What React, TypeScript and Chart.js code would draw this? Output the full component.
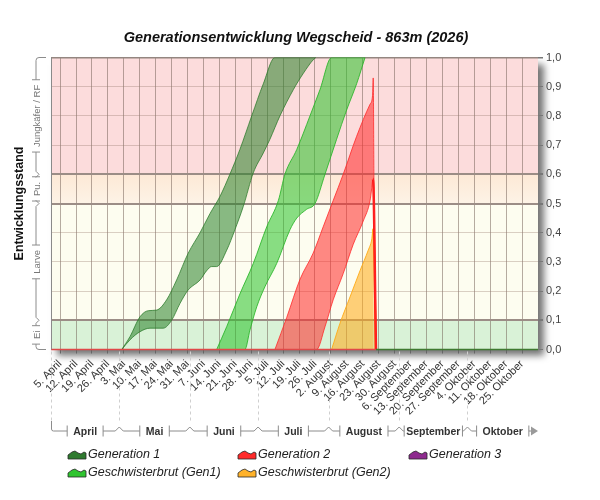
import React, { useEffect, useRef } from 'react';
import Chart from 'chart.js/auto';

const FONT = "'Liberation Sans', Arial, sans-serif";

const title = 'Generationsentwicklung Wegscheid - 863m (2026)';
const yTitle = 'Entwicklungsstand';

const tickLabels = [
	'5. April', '12. April', '19. April', '26. April',
	'3. Mai', '10. Mai', '17. Mai', '24. Mai', '31. Mai',
	'7. Juni', '14. Juni', '21. Juni', '28. Juni',
	'5. Juli', '12. Juli', '19. Juli', '26. Juli',
	'2. August', '9. August', '16. August', '23. August', '30. August',
	'6. September', '13. September', '20. September', '27. September',
	'4. Oktober', '11. Oktober', '18. Oktober', '25. Oktober',
];
const months = ['April', 'Mai', 'Juni', 'Juli', 'August', 'September', 'Oktober'];
// days counted from 1 April
const monthStarts = [0, 30, 61, 91, 122, 153, 183, 214];

const stageLabels = ['Ei', 'Larve', 'Pu.', 'Jungkäfer / RF'];
const stageBounds = [0, 0.1, 0.5, 0.6, 1];

const seriesNames = [
	'Generation 1',
	'Generation 2',
	'Generation 3',
	'Geschwisterbrut (Gen1)',
	'Geschwisterbrut (Gen2)',
];

// Generation 1 (band)
const gen1UpperDays = [31.1, 34.7, 39.1, 42.8, 46.4, 50.8, 55.2, 60.3, 65.5, 69.9, 74.3, 78.6, 83.0, 88.2, 93.3, 98.4, 116.4];
const gen1UpperVals = [0, 0.044, 0.112, 0.133, 0.135, 0.17, 0.238, 0.33, 0.4, 0.466, 0.525, 0.6, 0.685, 0.8, 0.91, 1, 1];
const gen1LowerDays = [31.1, 34.7, 39.1, 43.5, 49.3, 53.0, 56.7, 60.3, 65.5, 68.4, 70.6, 72.8, 77.2, 80.8, 84.5, 88.9, 93.3, 96.2, 100.6, 106.5, 110.9, 115.2, 116.4];
const gen1LowerVals = [0, 0.033, 0.061, 0.073, 0.073, 0.1, 0.158, 0.204, 0.238, 0.27, 0.284, 0.284, 0.34, 0.41, 0.49, 0.605, 0.673, 0.72, 0.8, 0.89, 0.946, 0.992, 1];

// Geschwisterbrut Gen1 (band)
const sis1UpperDays = [72.8, 77.2, 83.0, 88.9, 94.8, 99.9, 102.8, 108.0, 113.8, 118.2, 123.3, 138.0];
const sis1UpperVals = [0, 0.078, 0.19, 0.295, 0.42, 0.51, 0.6, 0.685, 0.8, 0.89, 1, 1];
const sis1LowerDays = [72.8, 85.2, 87.4, 90.4, 94.0, 99.2, 105.0, 108.0, 112.3, 116.0, 120.4, 125.5, 129.9, 134.3, 138.0];
const sis1LowerVals = [0, 0, 0.066, 0.146, 0.215, 0.295, 0.41, 0.45, 0.48, 0.5, 0.6, 0.72, 0.82, 0.91, 1];

// Generation 2 (band)
const gen2UpperDays = [98.4, 103.6, 109.4, 115.2, 119.6, 124.0, 128.4, 134.3, 140.2, 141.3, 141.6, 141.9, 142.8];
const gen2UpperVals = [0, 0.11, 0.24, 0.33, 0.42, 0.51, 0.6, 0.73, 0.84, 0.87, 0.93, 0.59, 0];
const gen2LowerDays = [98.4, 116.7, 120.4, 124.0, 128.4, 132.8, 137.2, 140.2, 140.9, 141.5, 142.8];
const gen2LowerVals = [0, 0, 0.078, 0.17, 0.26, 0.36, 0.44, 0.51, 0.55, 0.585, 0];

// Geschwisterbrut Gen2 (area)
const sis2Days = [123.3, 127.0, 131.4, 135.8, 139.4, 140.9, 141.6, 142.8];
const sis2Vals = [0, 0.09, 0.18, 0.27, 0.34, 0.375, 0.415, 0];

const legendColors = ['#2f7a2f', '#ff2a2a', '#8e2a8e', '#2fc42f', '#ffb22a'];
const bandColors = ['#d9f2d7', '#fdfdf0', '#fdeedd', '#fcdcdc'];

const pts = (xs: number[], ys: number[]) => xs.map((x, i) => ({ x, y: ys[i] }));

const lastSeg = (n: number, v: any) => (c: any) => (c.p1DataIndex === n - 1 ? v : undefined);

const decor = {
	id: 'decor',
	beforeDraw(chart: any) {
		const { ctx, chartArea: a, scales } = chart;
		const y = scales.y;
		ctx.save();
		ctx.shadowColor = 'rgba(0,0,0,0.55)';
		ctx.shadowBlur = 7;
		ctx.shadowOffsetX = 6;
		ctx.shadowOffsetY = 6;
		ctx.fillStyle = '#fff';
		ctx.fillRect(a.left, a.top, a.width, a.height);
		ctx.restore();
		ctx.save();
		for (let i = 0; i < bandColors.length; i++) {
			const top = y.getPixelForValue(stageBounds[i + 1]);
			const bot = y.getPixelForValue(stageBounds[i]);
			if (i === 2) {
				const g = ctx.createLinearGradient(0, top, 0, bot);
				g.addColorStop(0, '#fde9d6');
				g.addColorStop(1, '#fdf3e6');
				ctx.fillStyle = g;
			} else {
				ctx.fillStyle = bandColors[i];
			}
			ctx.fillRect(a.left, top, a.width, bot - top);
		}
		ctx.restore();
	},
	afterDatasetsDraw(chart: any) {
		const { ctx, chartArea: a, scales } = chart;
		const y0 = scales.y.getPixelForValue(0);
		const xr = scales.x.getPixelForValue(gen2LowerDays[gen2LowerDays.length - 1]);
		ctx.save();
		ctx.lineWidth = 1.5;
		ctx.strokeStyle = '#e04848';
		ctx.beginPath();
		ctx.moveTo(a.left, y0);
		ctx.lineTo(xr, y0);
		ctx.stroke();
		ctx.strokeStyle = '#3f7a30';
		ctx.beginPath();
		ctx.moveTo(xr, y0);
		ctx.lineTo(a.right, y0);
		ctx.stroke();
		ctx.lineWidth = 1;
		ctx.strokeStyle = '#8a8a8a';
		ctx.beginPath();
		ctx.moveTo(a.left + 0.5, a.top);
		ctx.lineTo(a.left + 0.5, a.bottom);
		ctx.stroke();
		ctx.restore();
	},
	afterDraw(chart: any) {
		const { ctx, chartArea: a, scales } = chart;
		const x = scales.x;
		const y = scales.y;
		ctx.save();

		// title
		ctx.fillStyle = '#111';
		ctx.font = `italic bold 14.5px ${FONT}`;
		ctx.textAlign = 'center';
		ctx.textBaseline = 'middle';
		ctx.fillText(title, 296, 38);

		// y title
		ctx.save();
		ctx.translate(20, (a.top + a.bottom) / 2);
		ctx.rotate(-Math.PI / 2);
		ctx.font = `bold 12.5px ${FONT}`;
		ctx.fillText(yTitle, 0, 0);
		ctx.restore();

		// stage brackets on the left
		const bx = 36;
		ctx.strokeStyle = '#8c8c8c';
		ctx.lineWidth = 1;
		ctx.font = `9.5px ${FONT}`;
		for (let i = 0; i < stageLabels.length; i++) {
			const top = y.getPixelForValue(stageBounds[i + 1]);
			const bot = y.getPixelForValue(stageBounds[i]);
			const mid = (top + bot) / 2;
			const half = ctx.measureText(stageLabels[i]).width / 2 + 5;
			const t0 = top + 3;
			const b0 = bot - 3;
			ctx.beginPath();
			if (i === stageLabels.length - 1) {
				ctx.moveTo(bx + 10, top);
				ctx.lineTo(bx + 3, top);
				ctx.quadraticCurveTo(bx, top, bx, t0);
			} else {
				ctx.moveTo(bx + 3, top);
				ctx.lineTo(bx, t0);
			}
			ctx.lineTo(bx, mid - half);
			ctx.moveTo(bx - 4, mid - half);
			ctx.lineTo(bx + 4, mid - half);
			ctx.moveTo(bx - 4, mid + half);
			ctx.lineTo(bx + 4, mid + half);
			ctx.moveTo(bx, mid + half);
			ctx.lineTo(bx, b0);
			if (i === 0) {
				ctx.quadraticCurveTo(bx, bot, bx + 3, bot);
				ctx.lineTo(bx + 10, bot);
			} else {
				ctx.lineTo(bx + 3, bot);
			}
			ctx.stroke();
			ctx.save();
			ctx.translate(bx + 1.5, mid);
			ctx.rotate(-Math.PI / 2);
			ctx.fillStyle = '#777';
			ctx.fillText(stageLabels[i], 0, 0);
			ctx.restore();
		}

		// month brackets below the axis
		const ly = 431;
		ctx.font = `bold 10.5px ${FONT}`;
		ctx.fillStyle = '#333';
		ctx.strokeStyle = '#8c8c8c';
		ctx.save();
		ctx.setLineDash([3, 3]);
		ctx.strokeStyle = '#cfcfcf';
		for (let i = 0; i < months.length; i++) {
			const px = Math.round(x.getPixelForValue(monthStarts[i])) + 0.5;
			ctx.beginPath();
			ctx.moveTo(px, a.bottom + 2);
			ctx.lineTo(px, 421);
			ctx.stroke();
		}
		ctx.restore();
		ctx.beginPath();
		for (let i = 0; i < months.length; i++) {
			const p0 = x.getPixelForValue(monthStarts[i]);
			const p1 = x.getPixelForValue(monthStarts[i + 1]);
			const c = (p0 + p1) / 2;
			const w = ctx.measureText(months[i]).width;
			const cl = Math.max(p0 + 5, c - w / 2 - 6);
			const cr = Math.min(p1 - 5, c + w / 2 + 6);
			ctx.fillText(months[i], c, ly + 1);
			if (i === 0) {
				ctx.moveTo(p0 + 0.5, 421);
				ctx.lineTo(p0 + 0.5, ly - 2);
				ctx.quadraticCurveTo(p0 + 0.5, ly, p0 + 2.5, ly);
			} else {
				ctx.moveTo(p0 + 4, ly);
			}
			ctx.lineTo(cl, ly);
			ctx.moveTo(cl, ly - 5.5);
			ctx.lineTo(cl, ly + 5.5);
			ctx.moveTo(cr, ly - 5.5);
			ctx.lineTo(cr, ly + 5.5);
			ctx.moveTo(cr, ly);
			if (i < months.length - 1) {
				ctx.lineTo(p1 - 4, ly);
				ctx.lineTo(p1, ly - 4);
				ctx.lineTo(p1 + 4, ly);
			} else {
				ctx.lineTo(p1 - 7, ly);
			}
		}
		ctx.stroke();
		const pe = x.getPixelForValue(monthStarts[monthStarts.length - 1]);
		ctx.fillStyle = '#9a9a9a';
		ctx.beginPath();
		ctx.moveTo(pe - 7, ly - 4.5);
		ctx.lineTo(pe, ly);
		ctx.lineTo(pe - 7, ly + 4.5);
		ctx.closePath();
		ctx.fill();

		// legend
		const cols = [68, 238, 409];
		const rows = [455, 473];
		ctx.font = `italic 12.5px ${FONT}`;
		ctx.textAlign = 'left';
		for (let i = 0; i < seriesNames.length; i++) {
			const lx = cols[i % 3];
			const lyy = rows[Math.floor(i / 3)];
			const t = lyy - 5;
			ctx.beginPath();
			ctx.moveTo(lx, t + 9);
			ctx.lineTo(lx, t + 5);
			ctx.lineTo(lx + 4, t + 2);
			ctx.lineTo(lx + 7, t + 1);
			ctx.lineTo(lx + 10, t + 3);
			ctx.lineTo(lx + 13, t + 4);
			ctx.lineTo(lx + 16, t + 2);
			ctx.lineTo(lx + 18, t + 3);
			ctx.lineTo(lx + 18, t + 9);
			ctx.closePath();
			ctx.fillStyle = legendColors[i];
			ctx.fill();
			ctx.strokeStyle = '#2a2a2a';
			ctx.lineWidth = 0.8;
			ctx.stroke();
			ctx.fillStyle = '#222';
			ctx.fillText(seriesNames[i], lx + 20, lyy);
		}
		ctx.restore();
	},
};

const App: React.FC = () => {
	const canvasRef = useRef<HTMLCanvasElement | null>(null);
	const chartRef = useRef<Chart | null>(null);

	useEffect(() => {
		const canvas = canvasRef.current;
		if (!canvas) return;
		const ctx = canvas.getContext('2d');
		if (!ctx) return;
		Chart.defaults.font.family = FONT;

		const line = {
			type: 'line' as const,
			pointRadius: 0,
			borderWidth: 1,
			cubicInterpolationMode: 'monotone' as const,
		};

		chartRef.current = new Chart(ctx, {
			type: 'line',
			data: {
				datasets: [
					{ ...line, label: seriesNames[0], data: pts(gen1UpperDays, gen1UpperVals), borderColor: 'rgba(40,120,40,0.75)', fill: false },
					{ ...line, label: seriesNames[0], data: pts(gen1LowerDays, gen1LowerVals), borderColor: 'rgba(40,120,40,0.75)', backgroundColor: 'rgba(40,130,40,0.55)', fill: '-1' },
					{ ...line, label: seriesNames[3], data: pts(sis1UpperDays, sis1UpperVals), borderColor: 'rgba(40,180,40,0.85)', fill: false },
					{ ...line, label: seriesNames[3], data: pts(sis1LowerDays, sis1LowerVals), borderColor: 'rgba(40,180,40,0.85)', backgroundColor: 'rgba(40,195,40,0.55)', fill: '-1' },
					{ ...line, label: seriesNames[1], data: pts(gen2UpperDays, gen2UpperVals), borderColor: 'rgba(255,40,40,0.8)', fill: false },
					{
						...line,
						label: seriesNames[1],
						data: pts(gen2LowerDays, gen2LowerVals),
						borderColor: 'rgba(255,40,40,0.8)',
						backgroundColor: 'rgba(255,40,40,0.55)',
						fill: '-1',
						segment: {
							borderWidth: lastSeg(gen2LowerDays.length, 2.5),
							borderColor: lastSeg(gen2LowerDays.length, '#ff1a1a'),
						},
					},
					{
						...line,
						label: seriesNames[4],
						data: pts(sis2Days, sis2Vals),
						borderColor: 'rgba(255,170,20,0.9)',
						backgroundColor: 'rgba(255,170,20,0.55)',
						fill: 'origin',
						segment: {
							borderWidth: lastSeg(sis2Days.length, 2),
							borderColor: lastSeg(sis2Days.length, '#ff9a00'),
						},
					},
					{ ...line, label: seriesNames[2], data: [], borderColor: legendColors[2], fill: false },
				],
			},
			options: {
				animation: false,
				responsive: true,
				maintainAspectRatio: false,
				events: [],
				layout: { padding: { top: 57.5, left: 51, right: 0, bottom: 0 } },
				plugins: {
					legend: { display: false },
					tooltip: { enabled: false },
					title: { display: false },
				},
				scales: {
					x: {
						type: 'linear',
						min: 0,
						max: monthStarts[monthStarts.length - 1],
						afterBuildTicks: (s: any) => {
							s.ticks = tickLabels.map((_, i) => ({ value: 4 + 7 * i }));
						},
						afterFit: (s: any) => {
							s.height = 150.5;
						},
						ticks: {
							autoSkip: false,
							minRotation: 45,
							maxRotation: 45,
							padding: 4,
							color: '#333',
							font: { size: 11 },
							callback: (_v: any, i: number) => tickLabels[i] ?? '',
						},
						grid: {
							color: 'rgba(110,90,80,0.5)',
							tickColor: '#666',
							tickLength: 4,
						},
						border: { display: false },
					},
					y: {
						position: 'right',
						min: 0,
						max: 1,
						afterFit: (s: any) => {
							s.width = 62;
						},
						ticks: {
							stepSize: 0.1,
							padding: 3,
							color: '#444',
							font: { size: 11 },
							callback: (v: any) => Number(v).toFixed(1).replace('.', ','),
						},
						grid: {
							tickLength: 5,
							tickColor: '#777',
							color: (c: any) => {
								const v = Math.round(c.tick.value * 10);
								if (v === 0) return 'rgba(0,0,0,0)';
								if (v === 1 || v === 5 || v === 6) return '#9b8d86';
								if (v === 10) return '#948680';
								return 'rgba(150,120,110,0.35)';
							},
							lineWidth: (c: any) => {
								const v = Math.round(c.tick.value * 10);
								if (v === 1 || v === 5 || v === 6) return 2;
								if (v === 10) return 1.5;
								return 1;
							},
						},
						border: { display: false },
					},
				},
			},
			plugins: [decor],
		} as any);

		return () => {
			if (chartRef.current) {
				chartRef.current.destroy();
				chartRef.current = null;
			}
		};
	}, []);

	return (
		<div style={{ position: 'fixed', left: 0, top: 0, width: 600, height: 500, background: '#fff' }}>
			<canvas ref={canvasRef} />
		</div>
	);
};

export default App;
